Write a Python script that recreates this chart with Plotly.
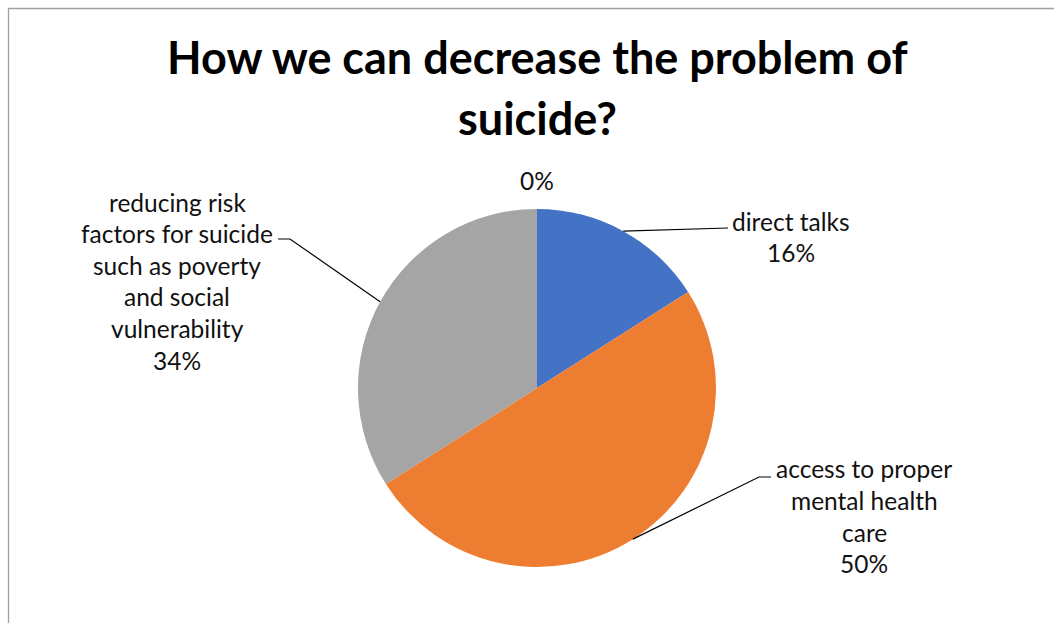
import math
import plotly.graph_objects as go

# Survey answers: "How we can decrease the problem of suicide?"
categories = [
    "direct talks",
    "access to proper mental health care",
    "reducing risk factors for suicide such as poverty and social vulnerability",
    "other",
]
values = [16, 50, 34, 0]
colors = ["#4472C4", "#ED7D31", "#A5A5A5", "#FFC000"]

# Wrapped label lines for each slice (name lines followed by percentage)
label_lines = [
    ["direct talks"],
    ["access to proper", "mental health", "care"],
    ["reducing risk", "factors for suicide", "such as poverty", "and social", "vulnerability"],
    [],
]

W, H = 1054, 623
CX, CY, R = 537, 388, 179   # pie centre and radius in pixels
FONT = "Lato"
TXT = "#111111"
LINE_STEP = 31.6


def px(x):
    return x / W


def py(y):
    return 1 - y / H


fig = go.Figure(
    go.Pie(
        labels=categories,
        values=values,
        sort=False,
        direction="clockwise",
        rotation=0,
        marker=dict(colors=colors, line=dict(width=0)),
        textinfo="none",
        hoverinfo="label+percent",
        showlegend=False,
        domain=dict(x=[px(CX - R), px(CX + R)], y=[py(CY + R), py(CY - R)]),
    )
)

total = sum(values)
pct = [round(100 * v / total) for v in values]

# mid-angle of every slice, measured clockwise from 12 o'clock
mid_angles = []
acc = 0.0
for v in values:
    mid_angles.append(360 * (acc + v / 2) / total)
    acc += v


def edge_point(angle):
    a = math.radians(angle)
    return CX + R * math.sin(a), CY - R * math.cos(a)


# where each label block sits (centre x, first-line y) and its leader path
label_layout = [
    dict(x=791, y=221, path=[(728, 228)]),
    dict(x=864, y=469, path=[(759, 477), (771, 477)]),
    dict(x=177, y=202, path=[(290, 239), (278, 239)]),
    dict(x=537, y=181, path=None),
]

annotations = []
shapes = []

for i, spec in enumerate(label_layout):
    lines = label_lines[i] + [f"{pct[i]}%"]
    for k, line in enumerate(lines):
        annotations.append(
            dict(
                text=line,
                x=px(spec["x"]),
                y=py(spec["y"] + k * LINE_STEP),
                xref="paper",
                yref="paper",
                xanchor="center",
                yanchor="middle",
                showarrow=False,
                font=dict(family=FONT, size=24.5, color=TXT),
            )
        )
    if spec["path"]:
        pts = [edge_point(mid_angles[i])] + spec["path"]
        d = "M " + " L ".join(f"{px(x):.5f},{py(y):.5f}" for x, y in pts)
        shapes.append(
            dict(type="path", path=d, xref="paper", yref="paper",
                 line=dict(color="#000000", width=1.2))
        )

# chart title, two lines
title_lines = ["How we can decrease the problem of", "suicide?"]
for k, line in enumerate(title_lines):
    annotations.append(
        dict(
            text=f"<b>{line}</b>",
            x=px(537),
            y=py(57 + k * 61),
            xref="paper",
            yref="paper",
            xanchor="center",
            yanchor="middle",
            showarrow=False,
            font=dict(family=FONT, size=45, color="#000000"),
        )
    )

# chart-area frame
shapes.append(
    dict(type="rect", xref="paper", yref="paper",
         x0=px(8.5), x1=px(W + 20), y0=py(H + 20), y1=py(8.5),
         line=dict(color="#A0A0A0", width=1.3))
)

fig.update_layout(
    width=W,
    height=H,
    margin=dict(l=0, r=0, t=0, b=0),
    paper_bgcolor="white",
    plot_bgcolor="white",
    annotations=annotations,
    shapes=shapes,
)

fig.write_html("out.html")
